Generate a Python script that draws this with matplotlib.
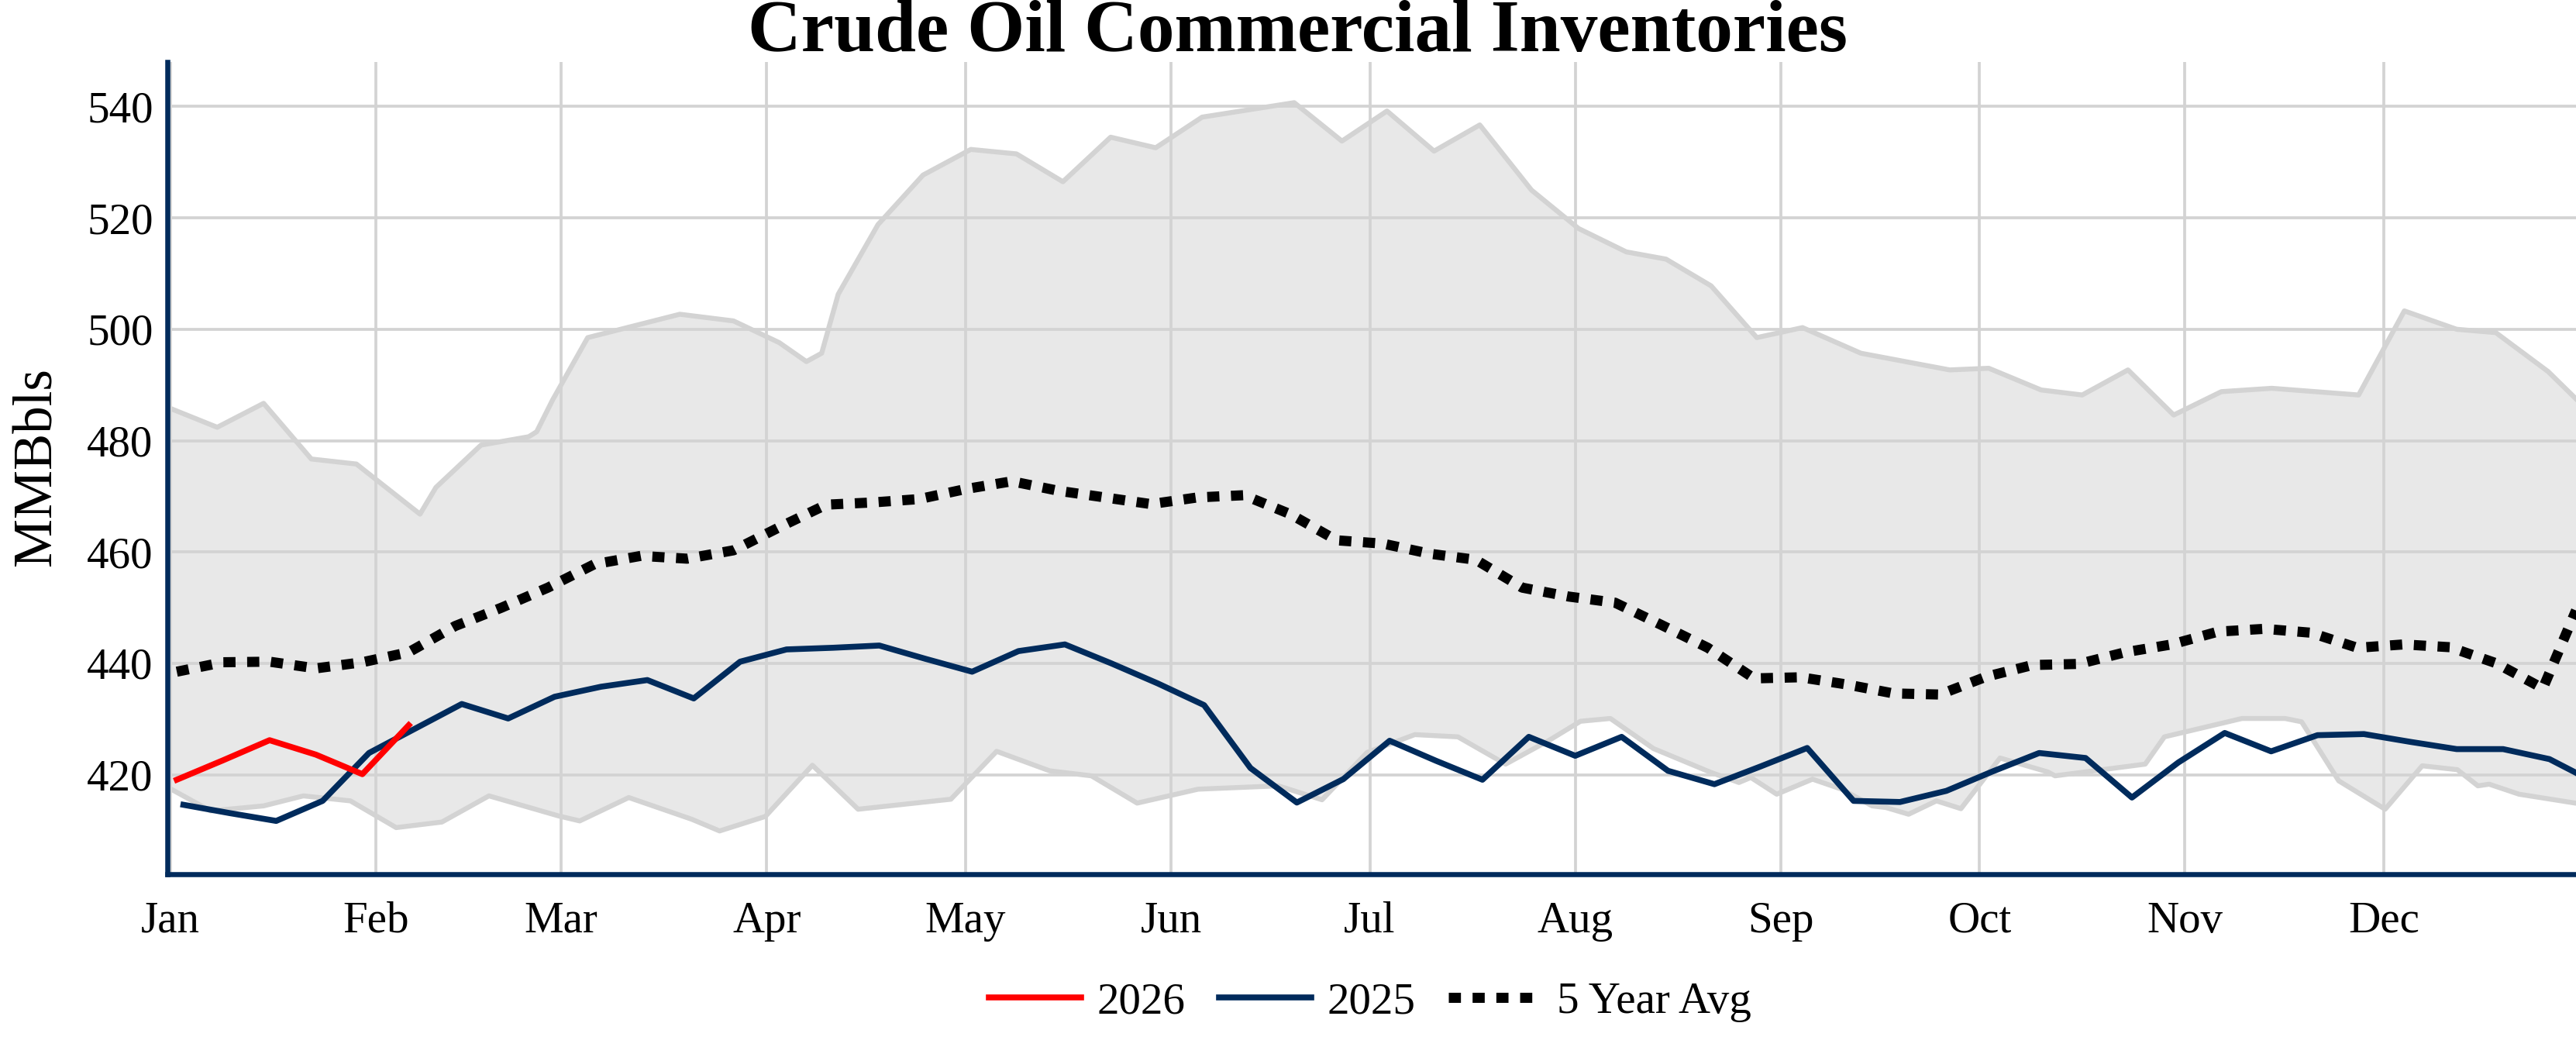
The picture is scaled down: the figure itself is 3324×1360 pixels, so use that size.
import numpy as np
import pandas as pd
import matplotlib
matplotlib.use('Agg')
import matplotlib.pyplot as plt
import matplotlib.dates as mdates

plt.rcParams['font.family'] = ['Liberation Serif', 'DejaVu Serif']

# 2026 weekly values (MMBbls)
val_2026 = [419.1, 422.6, 426.2, 423.6, 420.1, 428.9]

# 2025 weekly values, plotted on the same calendar
val_2025 = [414.6, 413.1, 411.7, 415.3, 423.9, 428.3, 432.7, 430.1, 434.0, 435.8,
            437.0, 433.7, 440.3, 442.5, 442.8, 443.2, 440.8, 438.5, 442.2, 443.4,
            440.0, 436.4, 432.5, 421.2, 415.0, 419.2, 426.1, 422.5, 419.1, 426.8,
            423.4, 426.8, 420.7, 418.3, 421.5, 424.8, 415.3, 415.1, 417.1, 420.6,
            423.9, 423.0, 415.9, 422.2, 427.5, 424.2, 427.1, 427.3, 425.9, 424.6,
            424.6, 422.8, 418.5]

# 5 year average
val_avg = [438.5, 440.2, 440.3, 439.1, 440.2, 442.0, 446.7, 450.0, 453.6, 457.8,
           459.3, 458.8, 460.3, 464.5, 468.5, 468.9, 469.5, 471.3, 472.7, 471.0,
           469.8, 468.6, 469.8, 470.2, 466.8, 462.1, 461.5, 459.7, 458.6, 453.6,
           452.0, 450.9, 446.9, 442.8, 437.3, 437.5, 436.2, 434.6, 434.4, 437.6,
           439.7, 439.9, 442.0, 443.4, 445.7, 446.2, 445.5, 442.8, 443.4, 442.9,
           440.0, 435.5]
avg_last_day = 363.0
avg_last_val = 449.5

# 5 year range (max / min), day of year and value
hi_day = [0.0, 7.1, 14.1, 21.3, 28.1, 37.7, 40.1, 46.9, 54.1, 55.3, 57.7, 63.0,
          76.9, 85.0, 91.9, 96.0, 98.3, 100.8, 106.8, 113.6, 120.8, 127.7, 134.7,
          141.9, 148.7, 155.7, 169.6, 176.8, 183.6, 190.7, 197.6, 205.4, 212.5,
          219.7, 225.7, 232.5, 239.4, 246.3, 255.1, 268.5, 274.4, 282.3, 288.5,
          295.4, 302.3, 309.5, 317.1, 330.2, 337.1, 345.0, 350.9, 358.8, 366.0]
hi_val = [485.8, 482.4, 486.7, 476.7, 475.8, 466.8, 471.6, 479.2, 480.7, 481.6, 487.3, 498.5,
          502.7, 501.5, 497.6, 494.2, 495.7, 506.3, 518.8, 527.7, 532.3, 531.5, 526.5,
          534.5, 532.6, 538.1, 540.7, 533.8, 539.2, 532.0, 536.7, 525.0, 518.1,
          513.9, 512.6, 507.8, 498.5, 500.3, 495.7, 492.7, 493.0, 489.1, 488.2,
          492.7, 484.6, 488.8, 489.4, 488.2, 503.3, 500.0, 499.4, 492.4, 484.0]
lo_day = [0.0, 6.1, 14.1, 20.1, 27.2, 34.1, 41.0, 48.1, 58.6, 61.8, 69.2, 78.7,
          82.9, 89.8, 96.9, 103.8, 117.8, 124.7, 132.7, 139.0, 145.9, 155.1, 167.2,
          173.8, 180.6, 187.8, 194.3, 201.5, 208.1, 212.8, 217.3, 223.8, 232.5,
          236.7, 238.5, 242.4, 247.8, 252.2, 256.8, 258.9, 262.3, 266.5, 270.2,
          276.1, 283.3, 284.4, 298.0, 300.9, 312.6, 319.1, 321.6, 327.2, 334.2,
          339.8, 345.1, 348.2, 349.9, 354.4, 362.9, 366.0]
lo_val = [417.5, 413.5, 414.4, 416.2, 415.3, 410.5, 411.5, 416.2, 412.6, 411.7, 415.9, 412.0,
          409.9, 412.5, 421.7, 413.8, 415.6, 424.2, 420.7, 419.8, 414.9, 417.4, 418.0,
          415.5, 424.0, 427.2, 426.8, 421.9, 426.2, 429.6, 430.1, 424.7, 420.4,
          418.6, 419.5, 416.5, 419.2, 417.4, 414.4, 414.1, 412.9, 415.3, 413.9,
          423.0, 420.5, 419.8, 421.9, 426.8, 430.1, 430.1, 429.5, 418.9, 413.8,
          421.6, 420.9, 418.0, 418.3, 416.5, 414.9, 414.5]

y_ticks = [420, 440, 460, 480, 500, 520, 540]

navy = '#002B5C'
start = pd.Timestamp('2026-01-01')


def to_date(days):
    return start + pd.to_timedelta(np.array(days), unit='D')


d2026 = pd.date_range('2026-01-02', periods=len(val_2026), freq='7D')
d2025 = pd.date_range('2026-01-03', periods=len(val_2025), freq='7D')
davg = pd.date_range('2026-01-02', periods=len(val_avg), freq='7D')
davg = davg.append(to_date([avg_last_day]))
avg_all = val_avg + [avg_last_val]

W, H = 3324, 1360
fig = plt.figure(figsize=(W / 100, H / 100), dpi=100)
ax = fig.add_axes([216 / W, 1 - 1127.8 / H, (W - 216) / W, 1048 / H])

hi_d = to_date(hi_day)
lo_d = to_date(lo_day)
poly_x = np.concatenate([mdates.date2num(hi_d), mdates.date2num(lo_d)[::-1]])
poly_y = np.concatenate([hi_val, lo_val[::-1]])
ax.fill(poly_x, poly_y, color='#E8E8E8', lw=0, zorder=0.3)
ax.plot(hi_d, hi_val, color='#D3D3D3', lw=4.6, zorder=1)
ax.plot(lo_d, lo_val, color='#D3D3D3', lw=4.6, zorder=1)

ax.plot(davg, avg_all, color='black', lw=9.4, linestyle=(0, (1.2, 1.15)),
        dash_capstyle='butt', label='5 Year Avg', zorder=3)
ax.plot(d2025, val_2025, color=navy, lw=5.5, label='2025', zorder=4)
ax.plot(d2026, val_2026, color='#FF0000', lw=5.5, label='2026', zorder=5)

ax.set_xlim(start - pd.Timedelta(hours=10), start + pd.Timedelta(days=363))
ax.set_ylim(402.16, 548.03)
ax.set_yticks(y_ticks)
ax.xaxis.set_major_locator(mdates.MonthLocator())
ax.xaxis.set_major_formatter(mdates.DateFormatter('%b'))

ax.grid(True, color='#D3D3D3', lw=2.7)
ax.set_axisbelow(True)
for s in ['top', 'right']:
    ax.spines[s].set_visible(False)
for s in ['left', 'bottom']:
    ax.spines[s].set_color(navy)
    ax.spines[s].set_linewidth(4.7)
    ax.spines[s].set_zorder(6)
ax.tick_params(axis='both', length=0, labelsize=41)
ax.tick_params(axis='x', pad=25)
ax.tick_params(axis='y', pad=13.3)

fig.text(1674 / W, 1 - 66 / H, 'Crude Oil Commercial Inventories', fontsize=68.6,
         fontweight='bold', ha='center', va='baseline')
fig.text(47.5 / W, 1 - 602.5 / H, 'MMBbls', fontsize=51, rotation=90,
         ha='center', va='center')

handles, labels = ax.get_legend_handles_labels()
order = [2, 1, 0]
fig.legend([handles[i] for i in order], [labels[i] for i in order],
           loc='center', bbox_to_anchor=(1768 / W, 1 - 1293 / H), ncol=3,
           frameon=False, fontsize=41, handlelength=2.1, handletextpad=0.36,
           columnspacing=0.75, borderpad=0, borderaxespad=0)

fig.savefig('out.png', dpi=100)
